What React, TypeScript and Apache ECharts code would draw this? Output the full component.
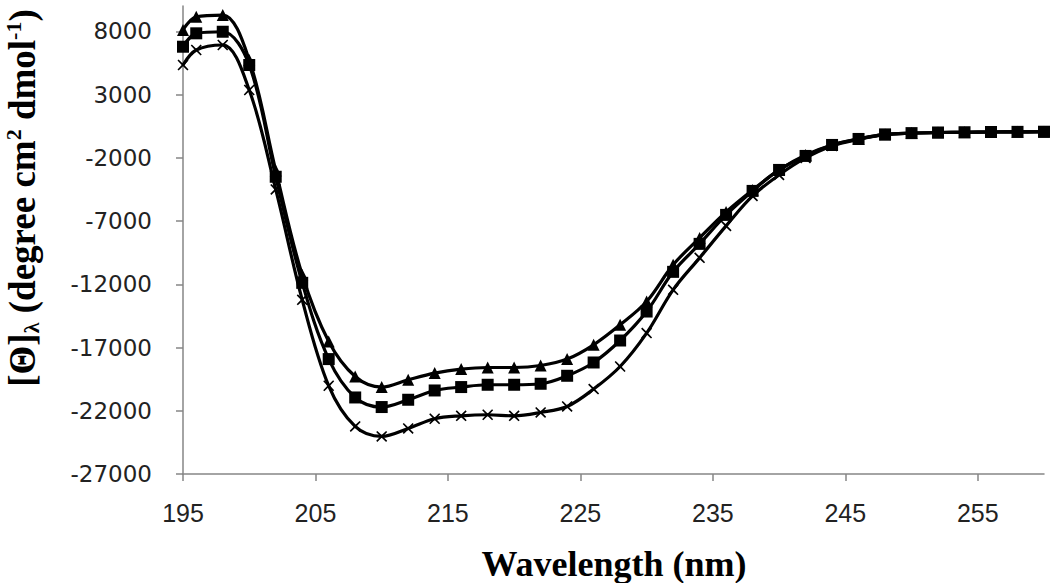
import React, { useEffect, useRef } from "react";
import * as echarts from "echarts";

const wavelengths = [195, 196, 198, 200, 202, 204, 206, 208, 210, 212, 214, 216, 218, 220, 222, 224, 226, 228, 230, 232, 234, 236, 238, 240, 242, 244, 246, 248, 250, 252, 254, 256, 258, 260];

const triangleSeries = [8100, 9150, 9285, 5730, -3000, -11255, -16525, -19290, -20127, -19550, -19021, -18705, -18579, -18579, -18421, -17915, -16785, -15205, -13365, -10465, -8332, -6278, -4540, -2960, -1775, -985, -511, -150, -50, 0, 20, 40, 50, 60];
const squareSeries = [6780, 7840, 7965, 5335, -3500, -11887, -17915, -20949, -21707, -21130, -20396, -20127, -19945, -19945, -19866, -19234, -18184, -16446, -14155, -11018, -8806, -6515, -4619, -2960, -1854, -985, -511, -150, -50, 0, 20, 40, 50, 60];
const crossSeries = [5335, 6520, 6915, 3360, -4500, -13230, -20024, -23240, -24030, -23400, -22631, -22400, -22315, -22400, -22134, -21660, -20285, -18500, -15861, -12440, -9912, -7384, -5014, -3355, -2012, -1064, -550, -180, -60, 0, 20, 40, 50, 60];

const xTicks = [195, 205, 215, 225, 235, 245, 255];
const yTicks = [-27000, -22000, -17000, -12000, -7000, -2000, 3000, 8000];

const crossPath = "path://M1,0 L5,3.8 L9,0 L10,1 L6.2,5 L10,9 L9,10 L5,6.2 L1,10 L0,9 L3.8,5 L0,1 Z";

export default function App() {
  const ref = useRef<HTMLDivElement>(null);
  useEffect(() => {
    if (!ref.current) return;
    const chart = echarts.init(ref.current, undefined, { renderer: "svg" });
    const pair = (ys: number[]) => wavelengths.map((x, i) => [x, ys[i]]);
    const lineStyle = { color: "#000", width: 3.2 };
    const axisGray = "#868686";
    chart.setOption({
      animation: false,
      backgroundColor: "#fff",
      grid: { left: 183, right: 6, top: 6, bottom: 109, containLabel: false },
      xAxis: {
        type: "value",
        min: 195,
        max: 260,
        axisLine: { show: true, onZero: false, lineStyle: { color: axisGray, width: 1.5 } },
        axisTick: { show: true, length: 7, lineStyle: { color: axisGray, width: 1.5 }, customValues: xTicks },
        axisLabel: {
          customValues: xTicks,
          margin: 26,
          color: "#222",
          fontFamily: "Liberation Sans",
          fontSize: 25,
          formatter: (v: number) => String(v),
        },
        splitLine: { show: false },
      },
      yAxis: {
        type: "value",
        min: -27000,
        max: 10000,
        axisLine: { show: true, onZero: false, lineStyle: { color: axisGray, width: 1.5 } },
        axisTick: { show: true, length: 7, lineStyle: { color: axisGray, width: 1.5 }, customValues: yTicks },
        axisLabel: {
          customValues: yTicks,
          margin: 31,
          color: "#222",
          fontFamily: "DejaVu Sans",
          fontSize: 23,
          formatter: (v: number) => String(v),
        },
        splitLine: { show: false },
      },
      series: [
        {
          type: "line",
          data: pair(crossSeries),
          smooth: 0.35,
          symbol: crossPath,
          symbolSize: 11,
          lineStyle,
          itemStyle: { color: "#000" },
        },
        {
          type: "line",
          data: pair(squareSeries),
          smooth: 0.35,
          symbol: "rect",
          symbolSize: 12,
          lineStyle,
          itemStyle: { color: "#000" },
        },
        {
          type: "line",
          data: pair(triangleSeries),
          smooth: 0.35,
          symbol: "triangle",
          symbolSize: 12,
          lineStyle,
          itemStyle: { color: "#000" },
        },
      ],
      graphic: [
        {
          type: "text",
          x: 614,
          y: 564,
          style: {
            text: "Wavelength (nm)",
            fontFamily: "Liberation Serif",
            fontWeight: "bold",
            fontSize: 36,
            fill: "#000",
            align: "center",
            verticalAlign: "middle",
          },
        },
        {
          type: "text",
          x: 22,
          y: 198,
          rotation: Math.PI / 2,
          style: {
            text: "[Θ]{sub|λ} (degree cm{sup|2} dmol{sup|-1})",
            fontFamily: "Liberation Serif",
            fontWeight: "bold",
            fontSize: 37,
            lineHeight: 40,
            fill: "#000",
            align: "center",
            verticalAlign: "middle",
            rich: {
              sub: {
                fontFamily: "Liberation Serif",
                fontWeight: "bold",
                fontSize: 22,
                lineHeight: 40,
                verticalAlign: "bottom",
                fill: "#000",
              },
              sup: {
                fontFamily: "Liberation Serif",
                fontWeight: "bold",
                fontSize: 22,
                lineHeight: 22,
                verticalAlign: "top",
                fill: "#000",
              },
            },
          },
        },
      ],
    });
    return () => chart.dispose();
  }, []);
  return (
    <div
      ref={ref}
      style={{ position: "absolute", left: 0, top: 0, width: 1050, height: 583 }}
    />
  );
}
